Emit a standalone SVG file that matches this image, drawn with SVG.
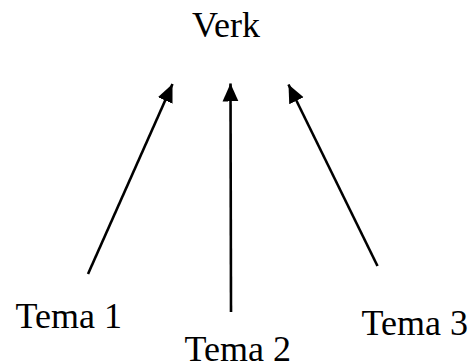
<svg xmlns="http://www.w3.org/2000/svg" width="471" height="363" viewBox="0 0 471 363">
  <style>
    .label { font-family: "Liberation Serif", "Times New Roman", serif; font-size: 36px; fill: #000; }
    .link { stroke: #000; stroke-width: 2.6; fill: none; marker-end: url(#head); }
  </style>
  <defs>
    <marker id="head" markerUnits="userSpaceOnUse" markerWidth="18" markerHeight="18" viewBox="0 0 18 16" refX="18" refY="8" orient="auto">
      <path d="M0,0 L18,8 L0,16 Z" fill="#000"/>
    </marker>
  </defs>
  <rect width="471" height="363" fill="#fff"/>

  <g id="verk"><text class="label" x="192" y="37">Verk</text></g>
  <g id="tema1"><text class="label" x="15.5" y="328">Tema 1</text></g>
  <g id="tema2"><text class="label" x="184.5" y="361">Tema 2</text></g>
  <g id="tema3"><text class="label" x="361.5" y="335">Tema 3</text></g>

  <g id="connectors">
    <line class="link" x1="88" y1="274" x2="172.5" y2="84"/>
    <line class="link" x1="231" y1="312" x2="230.5" y2="83.5"/>
    <line class="link" x1="377.5" y1="266" x2="288.5" y2="84.5"/>
  </g>
</svg>
